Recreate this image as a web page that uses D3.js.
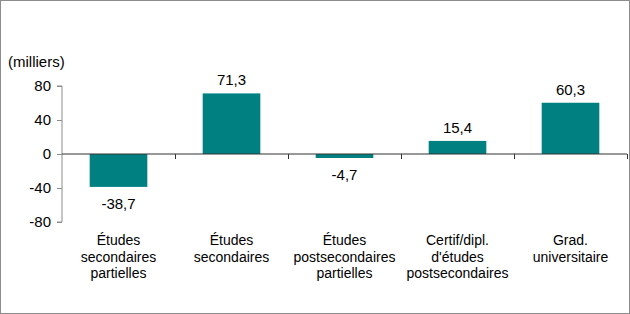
<!DOCTYPE html>
<html>
<head>
<meta charset="utf-8">
<script src="https://cdn.jsdelivr.net/npm/d3@7"></script>
<style>
  body { margin: 0; background: #fff; }
  svg text { font-family: "Liberation Sans", Arial, sans-serif; fill: #000; }
</style>
</head>
<body>
<div id="graph_container"></div>
<script>
var width  = 630;
var height = 314;

// data
var categories = [
  ["Études", "secondaires", "partielles"],
  ["Études", "secondaires"],
  ["Études", "postsecondaires", "partielles"],
  ["Certif/dipl.", "d'études", "postsecondaires"],
  ["Grad.", "universitaire"]
];
var values      = [-38.7, 71.3, -4.7, 15.4, 60.3];
var value_text  = ["-38,7", "71,3", "-4,7", "15,4", "60,3"];
var y_ticks     = [80, 40, 0, -40, -80];
var unit_label  = "(milliers)";

var svg = d3.select("#graph_container").append("svg")
    .attr("width", width).attr("height", height);

// outer frame
svg.append("rect")
    .attr("x", 0.5).attr("y", 0.5)
    .attr("width", width - 1).attr("height", height - 1)
    .attr("fill", "none").attr("stroke", "#8c8c8c");

var x = d3.scaleBand()
    .domain(d3.range(values.length))
    .range([62, 627])
    .paddingInner(0.49).paddingOuter(0.245);

var y = d3.scaleLinear().domain([-80, 80]).range([222, 86]);

// y axis
var yAxis = svg.append("g")
    .attr("transform", "translate(62,0)")
    .call(d3.axisLeft(y).tickValues(y_ticks).tickSize(5).tickPadding(6)
        .tickFormat(function(d) { return d; }));
yAxis.select(".domain").attr("stroke", "#8c8c8c").attr("d", "M-5," + y(80) + "H0V" + y(-80) + "H-5");
yAxis.selectAll(".tick line").attr("stroke", "#8c8c8c");
yAxis.selectAll(".tick text").attr("font-size", 15).style("font-family", "Liberation Sans, Arial, sans-serif");

svg.append("text")
    .attr("x", 8).attr("y", 67)
    .attr("font-size", 15)
    .text(unit_label);

// bars
svg.selectAll("rect.bar").data(values).enter().append("rect")
    .attr("class", "bar")
    .attr("x", function(d, i) { return x(i); })
    .attr("width", x.bandwidth())
    .attr("y", function(d) { return y(Math.max(0, d)); })
    .attr("height", function(d) { return Math.abs(y(d) - y(0)); })
    .attr("fill", "#008080");

// zero line with category ticks
var step = x.step();
svg.append("line")
    .attr("x1", 62).attr("x2", 627)
    .attr("y1", y(0)).attr("y2", y(0))
    .attr("stroke", "#333").attr("stroke-width", 1);
svg.selectAll("line.ctick").data(d3.range(values.length)).enter().append("line")
    .attr("class", "ctick")
    .attr("x1", function(i) { return Math.round(x(i) + x.bandwidth() / 2 + step / 2) + 0.5; })
    .attr("x2", function(i) { return Math.round(x(i) + x.bandwidth() / 2 + step / 2) + 0.5; })
    .attr("y1", y(0)).attr("y2", y(0) + 5)
    .attr("stroke", "#333");

// value labels
svg.selectAll("text.val").data(values).enter().append("text")
    .attr("class", "val")
    .attr("x", function(d, i) { return x(i) + x.bandwidth() / 2; })
    .attr("y", function(d) { return d >= 0 ? y(d) - 8 : y(d) + 22; })
    .attr("text-anchor", "middle")
    .attr("font-size", 15)
    .text(function(d, i) { return value_text[i]; });

// category labels
categories.forEach(function(lines, i) {
    var t = svg.append("text")
        .attr("text-anchor", "middle")
        .attr("font-size", 14);
    lines.forEach(function(line, j) {
        t.append("tspan")
            .attr("x", x(i) + x.bandwidth() / 2)
            .attr("y", 245 + j * 16.5)
            .text(line);
    });
});
</script>
</body>
</html>
